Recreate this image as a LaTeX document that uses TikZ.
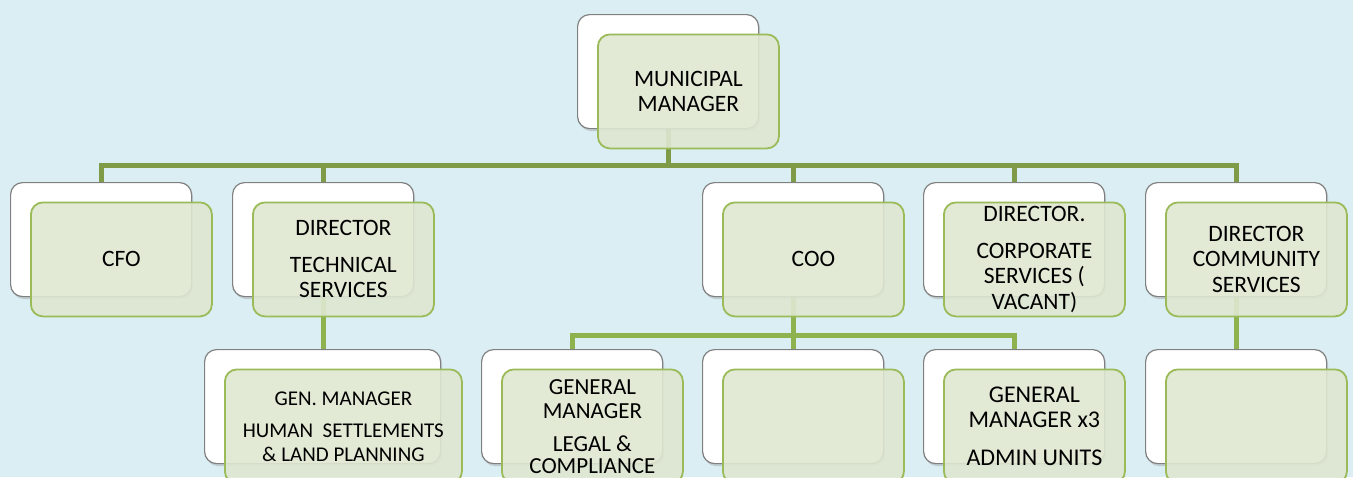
\documentclass[tikz,border=0pt]{standalone}
\usepackage{fontspec}
\setmainfont{Carlito}
\usetikzlibrary{
    positioning,
    shadows
}
\definecolor{PanelBlue}{RGB}{218,238,243}
\definecolor{BoxGreen}{RGB}{155,187,89}
\definecolor{BoxTint}{RGB}{223,231,209}
\definecolor{BusGreen}{RGB}{127,155,72}
\definecolor{LinkGreen}{RGB}{142,178,78}
\definecolor{EdgeGray}{RGB}{128,128,128}
\pgfdeclarelayer{panel}
\pgfdeclarelayer{links}
\pgfsetlayers{panel,links,main}
\newcommand{\bigtxt}{\fontsize{23.5pt}{25.5pt}\selectfont}
\newcommand{\smalltxt}{\fontsize{21pt}{23.5pt}\selectfont}
\tikzset{
  backbox/.style  = {draw=EdgeGray, fill=white, line width=1.2pt, rounded corners=12pt,
                     minimum width=181pt, minimum height=114pt, anchor=north west,
                     drop shadow={shadow xshift=1.5pt, shadow yshift=-2.5pt, opacity=0.3}},
  frontbox/.style = {draw=BoxGreen, fill=BoxTint, fill opacity=0.9, text opacity=1,
                     line width=1.8pt, rounded corners=12pt, minimum width=181pt,
                     minimum height=114pt, align=center, font=\bigtxt},
  bus/.style      = {BusGreen, line width=5pt},
  link/.style     = {LinkGreen, line width=5pt}
}

\begin{document}
\begin{tikzpicture}[x=1pt, y=-1pt]
\path[use as bounding box, clip] (0,0) rectangle (1353,477);
\begin{pgfonlayer}{panel}
\fill[PanelBlue] (0,0) rectangle (1353,477);
\end{pgfonlayer}
% top
\node[backbox] (mm-b) at (577,14) {};
\node[frontbox, below right=19.5pt and 20pt of mm-b.north west] (mm) {MUNICIPAL\\MANAGER};
% second row
\node[backbox] (cfo-b) at (10,182) {};
\node[frontbox, below right=19.5pt and 20pt of cfo-b.north west] (cfo) {CFO};
\node[backbox] (tech-b) at (232,182) {};
\node[frontbox, below right=19.5pt and 20pt of tech-b.north west] (tech) {DIRECTOR\\[11pt]TECHNICAL\\SERVICES};
\node[backbox] (coo-b) at (702,182) {};
\node[frontbox, below right=19.5pt and 20pt of coo-b.north west] (coo) {COO};
\node[backbox] (corp-b) at (923,182) {};
\node[frontbox, below right=19.5pt and 20pt of corp-b.north west] (corp) {DIRECTOR.\\[11pt]CORPORATE\\SERVICES (\\VACANT)};
\node[backbox] (comm-b) at (1145,182) {};
\node[frontbox, below right=19.5pt and 20pt of comm-b.north west] (comm) {DIRECTOR\\COMMUNITY\\SERVICES};
% third row
\node[backbox, minimum width=236pt] (hum-b) at (204,349) {};
\node[frontbox, minimum width=237pt, font=\smalltxt, below right=19.5pt and 20pt of hum-b.north west] (hum) {GEN. MANAGER\\[9pt]HUMAN\ \ SETTLEMENTS\\\&~LAND PLANNING};
\node[backbox] (legal-b) at (481,349) {};
\node[frontbox, font=\fontsize{23pt}{22pt}\selectfont, below right=19.5pt and 20pt of legal-b.north west] (legal) {GENERAL\\[2pt]MANAGER\\[11pt]LEGAL \&\\COMPLIANCE};
\node[backbox] (blank-b) at (702,349) {};
\node[frontbox, below right=19.5pt and 20pt of blank-b.north west] (blank) {};
\node[backbox] (gm3-b) at (923,349) {};
\node[frontbox, font=\fontsize{24pt}{25pt}\selectfont, below right=19.5pt and 20pt of gm3-b.north west] (gm3) {GENERAL\\MANAGER x3\\[13pt]ADMIN UNITS};
\node[backbox] (commx-b) at (1145,349) {};
\node[frontbox, below right=19.5pt and 20pt of commx-b.north west] (commx) {};
% connectors
\coordinate (bus1) at (0,165);
\coordinate (bus2) at (0,335);
\begin{pgfonlayer}{links}
\draw[bus] (mm-b.south) -- (mm-b.south |- bus1);
\draw[bus] (cfo-b.north) -- (cfo-b.north |- bus1) -- (comm-b.north |- bus1) -- (comm-b.north);
\foreach \n in {tech,coo,corp}
  \draw[bus] (\n-b.north |- bus1) -- (\n-b.north);
\draw[link] (tech-b.south) -- (tech-b.south |- hum-b.north);
\draw[link] (coo-b.south) -- (blank-b.north);
\draw[link] (legal-b.north) -- (legal-b.north |- bus2) -- (gm3-b.north |- bus2) -- (gm3-b.north);
\draw[link] (comm-b.south) -- (commx-b.north);
\end{pgfonlayer}
\end{tikzpicture}
\end{document}
